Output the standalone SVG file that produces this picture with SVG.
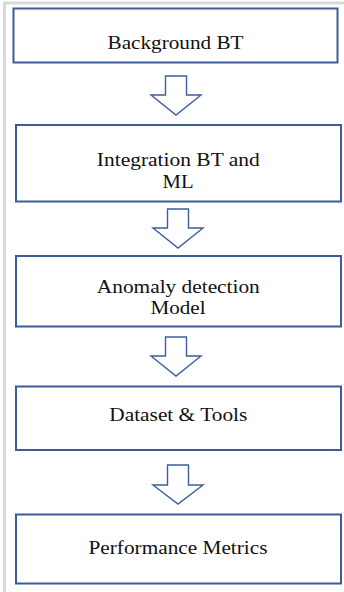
<svg xmlns="http://www.w3.org/2000/svg" width="344" height="592" viewBox="0 0 344 592">
  <style>
    .box { fill: #ffffff; stroke: #3b5c97; stroke-width: 2; }
    .arrow { fill: #ffffff; stroke: #3d5f9c; stroke-width: 1.4; stroke-linejoin: miter; }
    .label { font-size: 19px; fill: #111111; text-anchor: middle; }
  </style>
  <rect x="0" y="0" width="344" height="592" fill="#ffffff"/>
  <!-- light page frame along the top and left edges -->
  <path d="M4.5,592 V3 H344" fill="none" stroke="#d9d9d9" stroke-width="3"/>

  <g id="connectors">
    <path class="arrow" d="M165.5,76 H186.5 V95 H201 L176,115 L151,95 H165.5 Z"/>
    <path class="arrow" d="M167.5,209 H188.5 V228 H203 L178,248 L153,228 H167.5 Z"/>
    <path class="arrow" d="M165.5,337 H186.5 V356 H201 L176,376 L151,356 H165.5 Z"/>
    <path class="arrow" d="M167.5,465 H188.5 V485 H203 L178,504 L153,485 H167.5 Z"/>
  </g>

  <g font-family="'Times New Roman', 'Liberation Serif', 'DejaVu Serif', serif">
    <g id="background-bt">
      <rect class="box" x="13.5" y="8.5" width="324" height="54"/>
      <text class="label" x="175.5" y="49" textLength="136" lengthAdjust="spacingAndGlyphs">Background BT</text>
    </g>

    <g id="integration-bt-ml">
      <rect class="box" x="16" y="125" width="325" height="76.5"/>
      <text class="label" x="178.3" y="165.5" textLength="163" lengthAdjust="spacingAndGlyphs">Integration BT and</text>
      <text class="label" x="178" y="188.3" textLength="31" lengthAdjust="spacingAndGlyphs">ML</text>
    </g>

    <g id="anomaly-detection-model">
      <rect class="box" x="16" y="256" width="325" height="70.5"/>
      <text class="label" x="178.3" y="292.7" textLength="163" lengthAdjust="spacingAndGlyphs">Anomaly detection</text>
      <text class="label" x="178" y="314.3" textLength="55" lengthAdjust="spacingAndGlyphs">Model</text>
    </g>

    <g id="dataset-tools">
      <rect class="box" x="16" y="386.5" width="325" height="63.5"/>
      <text class="label" x="178.3" y="420.7" textLength="138" lengthAdjust="spacingAndGlyphs">Dataset &amp; Tools</text>
    </g>

    <g id="performance-metrics">
      <rect class="box" x="16" y="514.5" width="325" height="69"/>
      <text class="label" x="178" y="554" textLength="179" lengthAdjust="spacingAndGlyphs">Performance Metrics</text>
    </g>
  </g>
</svg>
